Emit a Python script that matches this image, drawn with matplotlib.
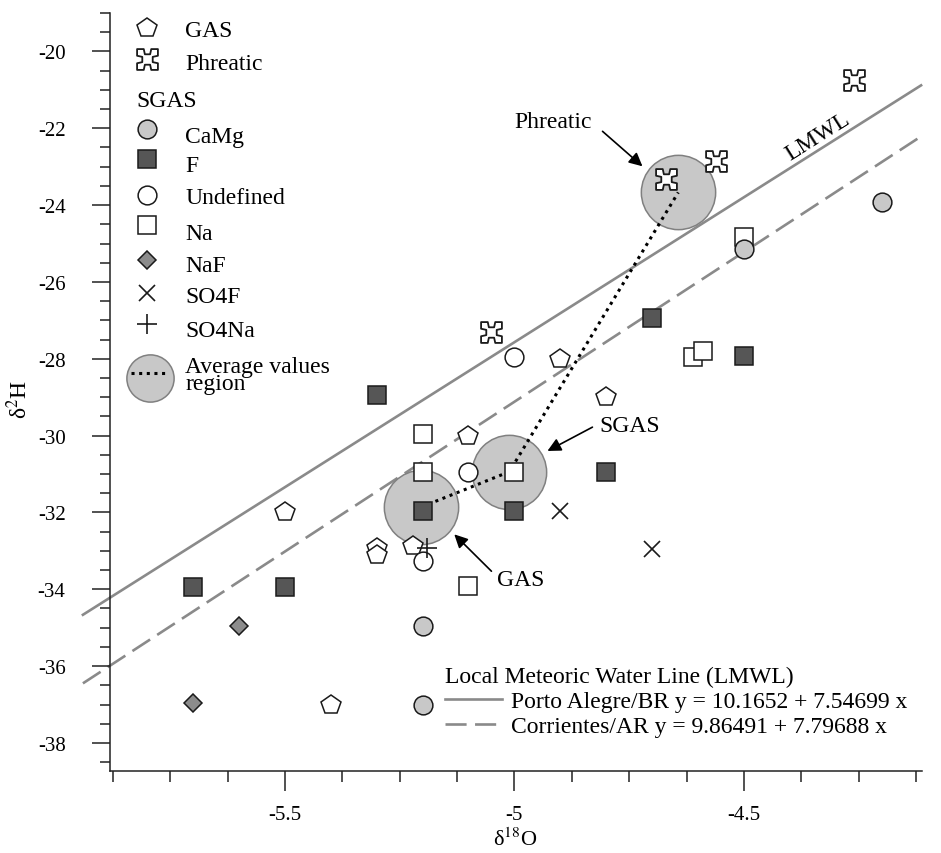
import numpy as np
import matplotlib
matplotlib.use("Agg")
import matplotlib.pyplot as plt
from matplotlib.path import Path
from matplotlib.ticker import MultipleLocator, FuncFormatter

plt.rcParams['font.family'] = ['Liberation Serif', 'DejaVu Serif']
plt.rcParams['mathtext.fontset'] = 'stix'
plt.rcParams['axes.unicode_minus'] = False

# datos (d18O, d2H)
gas_x = [-5.5, -5.3, -5.3, -5.22, -5.1, -4.9, -4.8, -5.4]
gas_y = [-32.0, -32.93, -33.11, -32.88, -30.0, -28.0, -29.0, -37.0]
phr_x = [-5.05, -4.67, -4.56, -4.26]
phr_y = [-27.3, -23.33, -22.85, -20.75]
camg_x = [-4.2, -4.5, -5.2, -5.2]
camg_y = [-23.93, -25.13, -34.95, -37.0]
f_x = [-5.3, -5.2, -5.0, -5.7, -5.5, -4.8, -4.7, -4.5]
f_y = [-28.95, -31.95, -31.95, -33.95, -33.95, -30.95, -26.93, -27.93]
und_x = [-5.0, -5.1, -5.2]
und_y = [-27.95, -30.95, -33.27]
na_x = [-5.2, -5.2, -5.0, -5.1, -4.5, -4.61, -4.59]
na_y = [-29.96, -30.95, -30.95, -33.92, -24.84, -27.95, -27.8]
naf_x = [-5.6, -5.7]
naf_y = [-34.95, -36.96]
so4f_x = [-4.9, -4.7]
so4f_y = [-31.97, -32.95]
so4na_x = [-5.19]
so4na_y = [-32.93]

# promedios: GAS, SGAS, Phreatic
avg_x = [-5.203, -5.011, -4.643]
avg_y = [-31.86, -30.94, -23.67]

# rectas meteoricas locales
lmwl_x = [-5.94, -4.114]
pa_a, pa_b = 10.1652, 7.54699
co_a, co_b = 9.86491, 7.79688


def phreatic_marker():
    # cuadrado con una muesca en U en cada lado
    w, d = 0.36, 0.5
    side = [(-1, -1), (-w, -1), (-w * 0.7, -1 + d), (w * 0.7, -1 + d), (w, -1)]
    verts = []
    for k in range(4):
        c, s = np.cos(k * np.pi / 2), np.sin(k * np.pi / 2)
        verts += [(c * x - s * y, s * x + c * y) for x, y in side]
    verts.append(verts[0])
    codes = [Path.MOVETO] + [Path.LINETO] * (len(verts) - 2) + [Path.CLOSEPOLY]
    return Path(verts, codes)


PHR = phreatic_marker()
EC = '#1a1a1a'
styles = {
    'GAS': dict(marker='p', ms=15, mfc='white', mec=EC, mew=1.1),
    'Phreatic': dict(marker=PHR, ms=15, mfc='white', mec=EC, mew=1.3),
    'CaMg': dict(marker='o', ms=13.5, mfc='#c8c8c8', mec=EC, mew=1.1),
    'F': dict(marker='s', ms=13, mfc='#565656', mec=EC, mew=1.1),
    'Undefined': dict(marker='o', ms=13.5, mfc='white', mec=EC, mew=1.1),
    'Na': dict(marker='s', ms=13, mfc='white', mec=EC, mew=1.1),
    'NaF': dict(marker='D', ms=9.5, mfc='#8c8c8c', mec=EC, mew=1.1),
    'SO4F': dict(marker='x', ms=12, mec=EC, mew=1.2),
    'SO4Na': dict(marker='+', ms=14, mec=EC, mew=1.2),
}

fig = plt.figure(figsize=(9.41, 8.54), dpi=100)
ax = fig.add_axes([110 / 941, 1 - 772 / 854, 812 / 941, 758 / 854])

xs = np.array(lmwl_x)
l1, = ax.plot(xs, pa_a + pa_b * xs, color='#8a8a8a', lw=1.9, clip_on=False, zorder=1)
l2, = ax.plot(xs, co_a + co_b * xs, color='#8a8a8a', lw=1.9, ls=(0, (8, 3.2)),
              clip_on=False, zorder=1)

ax.scatter(avg_x, avg_y, s=53.5**2, c='#c8c8c8', edgecolors='#808080', linewidths=1.1, zorder=2)
ax.plot(avg_x, avg_y, color='k', lw=2.2, ls=(0, (1, 1.5)), zorder=3)

series = [('GAS', gas_x, gas_y), ('Phreatic', phr_x, phr_y), ('F', f_x, f_y),
          ('Undefined', und_x, und_y), ('Na', na_x, na_y), ('CaMg', camg_x, camg_y),
          ('NaF', naf_x, naf_y), ('SO4F', so4f_x, so4f_y), ('SO4Na', so4na_x, so4na_y)]
for name, x, y in series:
    ax.plot(x, y, ls='none', zorder=4, **styles[name])

FS = 17
# anotaciones
arw = dict(arrowstyle='-|>', color='k', lw=1.2, mutation_scale=20, shrinkA=0, shrinkB=0)
ax.text(-4.915, -21.82, 'Phreatic', fontsize=FS, ha='center', va='center')
ax.annotate('', xy=(-4.721, -22.99), xytext=(-4.808, -22.08), arrowprops=arw)
ax.text(-4.749, -29.73, 'SGAS', fontsize=FS, ha='center', va='center')
ax.annotate('', xy=(-4.928, -30.40), xytext=(-4.830, -29.78), arrowprops=arw)
ax.text(-4.987, -33.74, 'GAS', fontsize=FS, ha='center', va='center')
ax.annotate('', xy=(-5.131, -32.57), xytext=(-5.050, -33.53), arrowprops=arw)
ax.text(-4.339, -22.2, 'LMWL', fontsize=FS, ha='center', va='center',
        rotation=32.3, rotation_mode='anchor')

# ejes
ax.set_xlim(-5.881, -4.112)
ax.set_ylim(-38.73, -19.0)
ax.spines['top'].set_visible(False)
ax.spines['right'].set_visible(False)
for s in ('left', 'bottom'):
    ax.spines[s].set_linewidth(1.1)
    ax.spines[s].set_color('#222222')
ax.xaxis.set_major_locator(MultipleLocator(0.5))
ax.xaxis.set_minor_locator(MultipleLocator(0.125))
ax.yaxis.set_major_locator(MultipleLocator(2))
ax.yaxis.set_minor_locator(MultipleLocator(0.5))
ax.xaxis.set_major_formatter(FuncFormatter(lambda v, p: '%g' % v))
ax.yaxis.set_major_formatter(FuncFormatter(lambda v, p: '%g' % v))
ax.tick_params(which='both', direction='out', width=1.1, color='#222222', labelsize=15)
ax.tick_params(axis='y', which='major', length=13, pad=19)
ax.tick_params(axis='y', which='minor', length=7)
ax.tick_params(axis='x', which='major', length=14.5, pad=10)
ax.tick_params(axis='x', which='minor', length=8)
ax.set_xlabel('δ$^{18}$O', fontsize=16)
ax.set_ylabel('δ$^{2}$H', fontsize=FS)
ax.xaxis.set_label_coords(0.4988, -0.0745)
ax.yaxis.set_label_coords(-0.096, 0.491)

# leyenda de simbolos (arriba a la izquierda)
def fy(py):
    return (772 - py) / 758

mx, tx = (147 - 110) / 812, (185 - 110) / 812
rows = [('GAS', 28.5, 37), ('Phreatic', 60, 70), ('CaMg', 129.5, 143), ('F', 160, 172),
        ('Undefined', 196, 204), ('Na', 226, 240), ('NaF', 261, 272), ('SO4F', 294, 303),
        ('SO4Na', 325, 337)]
for name, my, by in rows:
    ax.plot([mx], [fy(my)], transform=ax.transAxes, clip_on=False, ls='none', **styles[name])
    ax.text(tx, fy(by), name, transform=ax.transAxes, fontsize=FS, va='baseline')
ax.text((136 - 110) / 812, fy(107), 'SGAS', transform=ax.transAxes, fontsize=FS, va='baseline')
ax.plot([(150 - 110) / 812], [fy(379)], transform=ax.transAxes, clip_on=False, marker='o',
        ms=34, mfc='#c8c8c8', mec='#808080', mew=1.1, ls='none')
ax.plot([(131 - 110) / 812, (168 - 110) / 812], [fy(374), fy(374)], transform=ax.transAxes,
        clip_on=False, color='k', lw=2.2, ls=(0, (1, 1.5)))
ax.text(tx, fy(376), 'Average values\nregion', transform=ax.transAxes, fontsize=FS,
        va='center', linespacing=0.78)

# leyenda de las rectas
ax.legend([l1, l2], ['Porto Alegre/BR y = 10.1652 + 7.54699 x',
                     'Corrientes/AR y = 9.86491 + 7.79688 x'],
          title='Local Meteoric Water Line (LMWL)', title_fontsize=FS, fontsize=FS,
          loc='upper left', bbox_to_anchor=((445 - 110) / 812, fy(667)), frameon=False,
          alignment='left', borderpad=0, borderaxespad=0, handlelength=2.4,
          handletextpad=0.4, labelspacing=0.15)

fig.savefig('out.png', dpi=100)
